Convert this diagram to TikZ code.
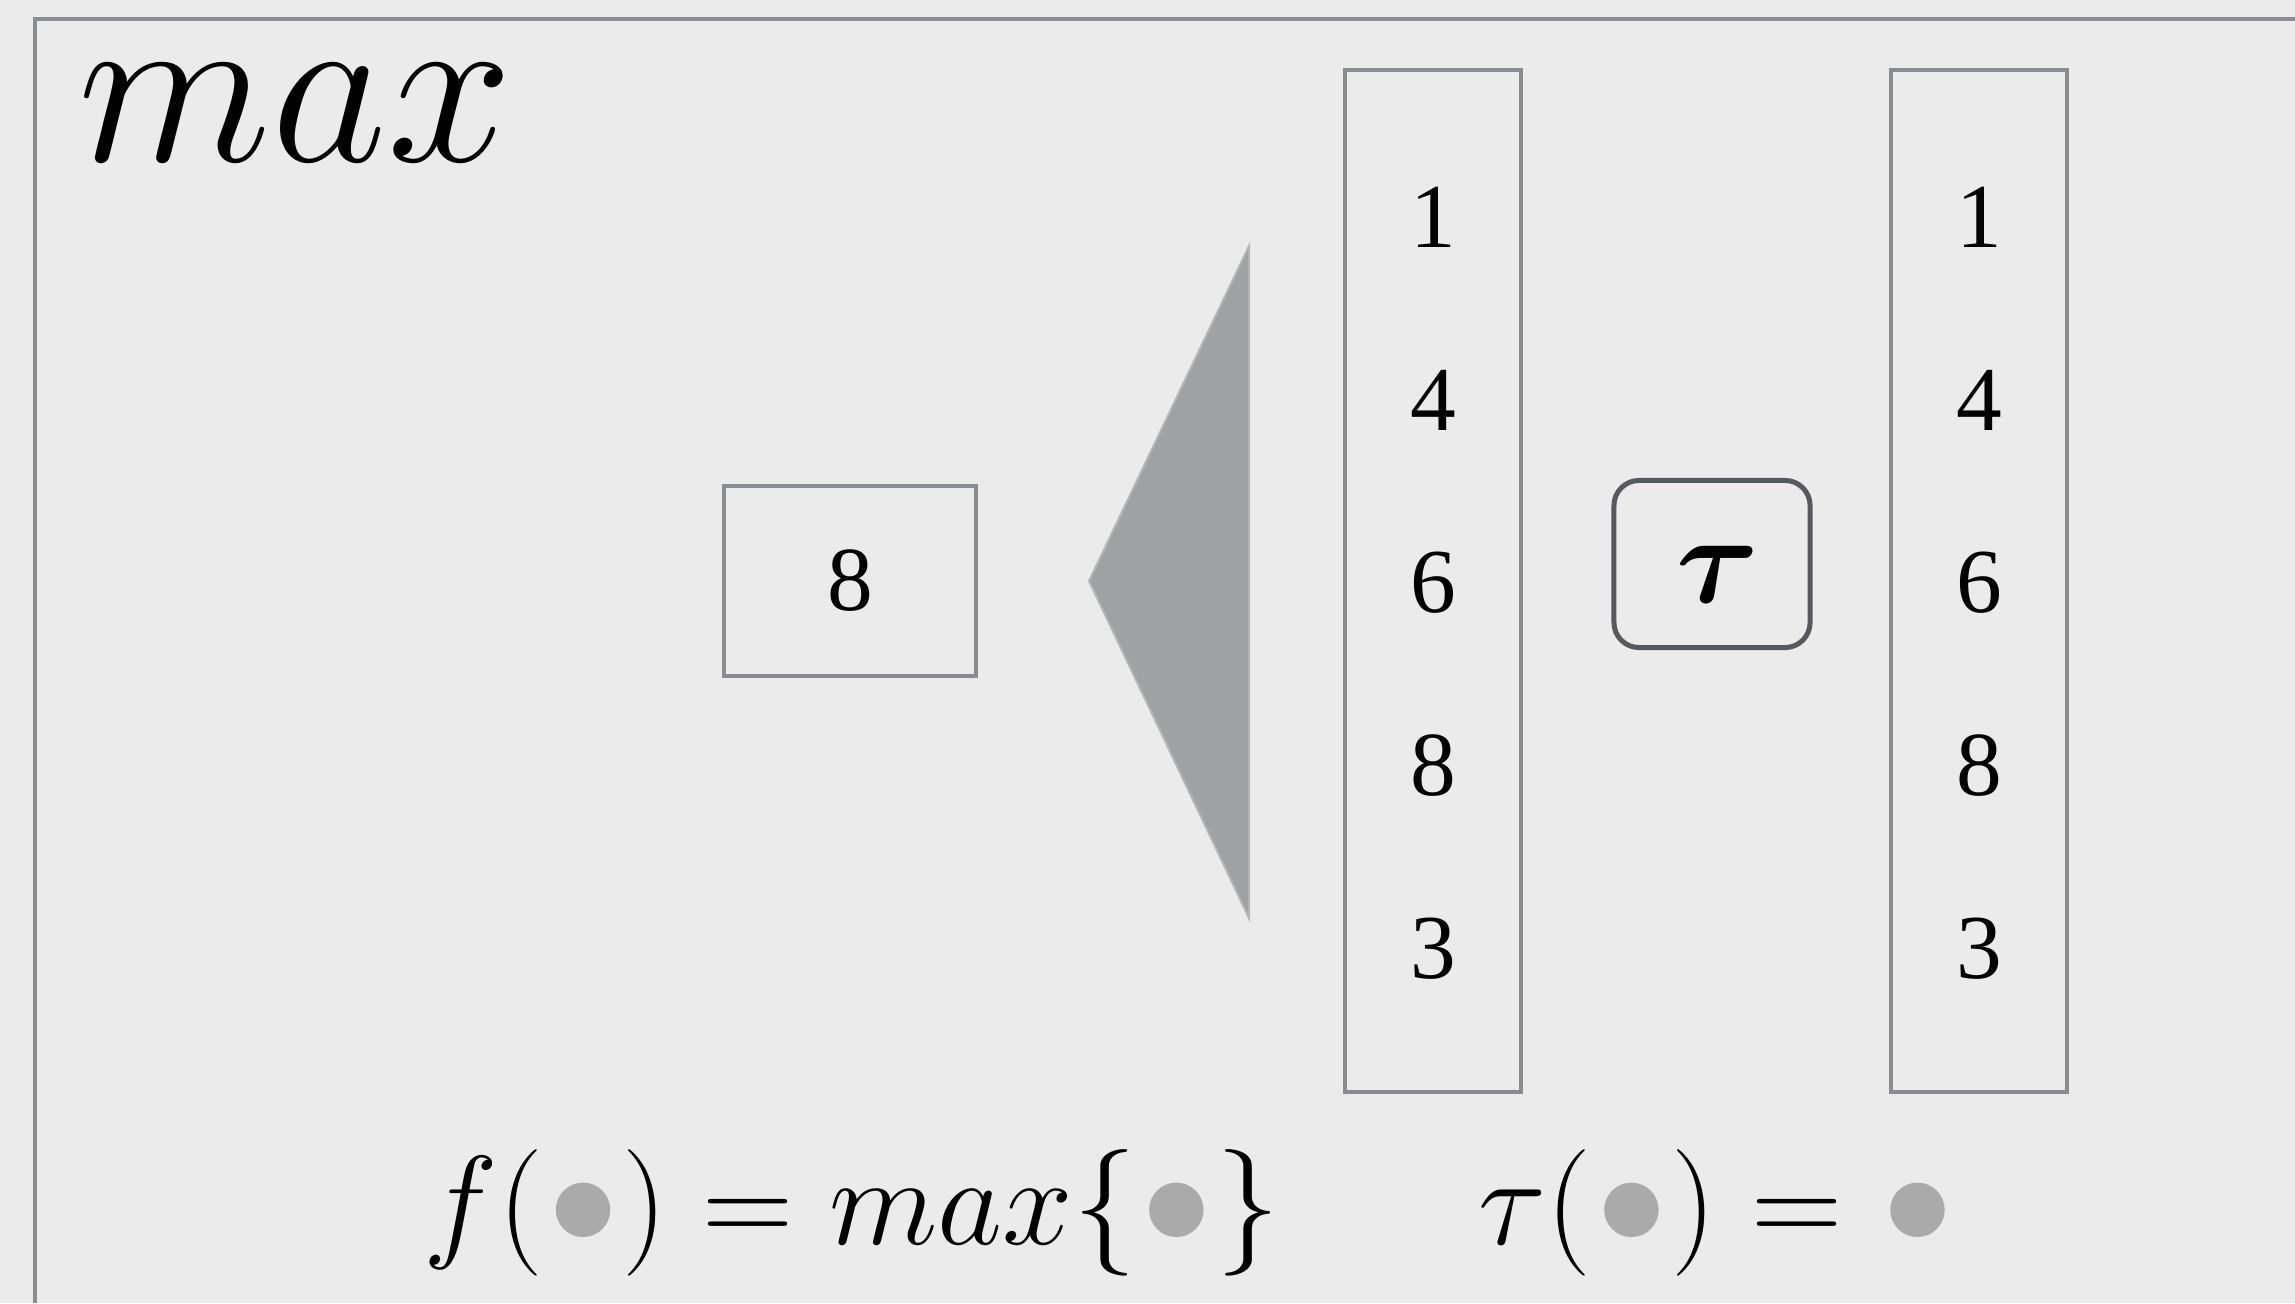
\documentclass[tikz,border=0pt]{standalone}
\usepackage{fix-cm}
\usepackage{amsmath,amssymb}
\usepackage{fontspec}
\newfontfamily\numfont{Liberation Serif}
\definecolor{bggray}{HTML}{EBEBEB}
\definecolor{boxgray}{HTML}{898C91}
\definecolor{taugray}{HTML}{555A60}
\definecolor{trifill}{HTML}{A0A1A5}
\definecolor{triedge}{HTML}{B4B5B8}
\definecolor{dotgray}{HTML}{AAAAAA}
\newcommand{\gdot}{\kern0.1em\tikz[baseline=-0.27em]\fill[dotgray] (0,0) circle (0.215em);\kern0.1em}
\tikzset{
  cell/.style={draw=boxgray, line width=0.04cm, inner sep=0pt},
  num/.style={font=\numfont\fontsize{26}{30}\selectfont, inner sep=0pt}
}

\begin{document}
\begin{tikzpicture}[x=0.01cm, y=-0.01cm]
\fill[bggray] (0,0) rectangle (2295,1303);
\useasboundingbox (0,0) rectangle (2295,1303);
\draw[boxgray, line width=0.03cm] (35,1303) -- (35,19) -- (2295,19);
\node[anchor=base west, inner sep=0pt, font=\fontsize{64}{70}\selectfont] (title) at (78,161) {$max$};

% output cell
\node[cell, minimum width=2.51cm, minimum height=1.90cm] (out) at (850,581) {};
\node[num] (outv) at (out.center) {8};

% pooling wedge
\coordinate (A) at (1089,581);
\coordinate (T) at (1249,246);
\coordinate (B) at (1249,918);
\filldraw[fill=trifill, draw=triedge, line width=0.02cm] (A) -- (T) -- (B) -- cycle;

% input and transformed columns
\node[cell, minimum width=1.76cm, minimum height=10.22cm] (colA) at (1433,581) {};
\node[cell, minimum width=1.76cm, minimum height=10.22cm] (colB) at (1979,581) {};
\foreach \v [count=\i] in {1,4,6,8,3} {
  \node[num] (a\i) at (1433,{583+(\i-3)*183}) {\v};
  \node[num] (b\i) at (1979,{583+(\i-3)*183}) {\v};
}

\node[draw=taugray, line width=0.05cm, rounded corners=0.25cm, minimum width=1.96cm, minimum height=1.67cm] (tau) at (1712,564) {};
\node[inner sep=0pt, font=\fontsize{36}{40}\selectfont] (tauv) at (1718,574) {$\boldsymbol{\tau}$};

% formulas
\node[anchor=base west, inner sep=0pt, font=\fontsize{36}{40}\selectfont] (fmax) at (423,1244) {$f(\gdot) = max\{\gdot\}$};
\node[anchor=base west, inner sep=0pt, font=\fontsize{36}{40}\selectfont] (ftau) at (1478,1244) {$\tau(\gdot) = \gdot$};
\end{tikzpicture}
\end{document}
